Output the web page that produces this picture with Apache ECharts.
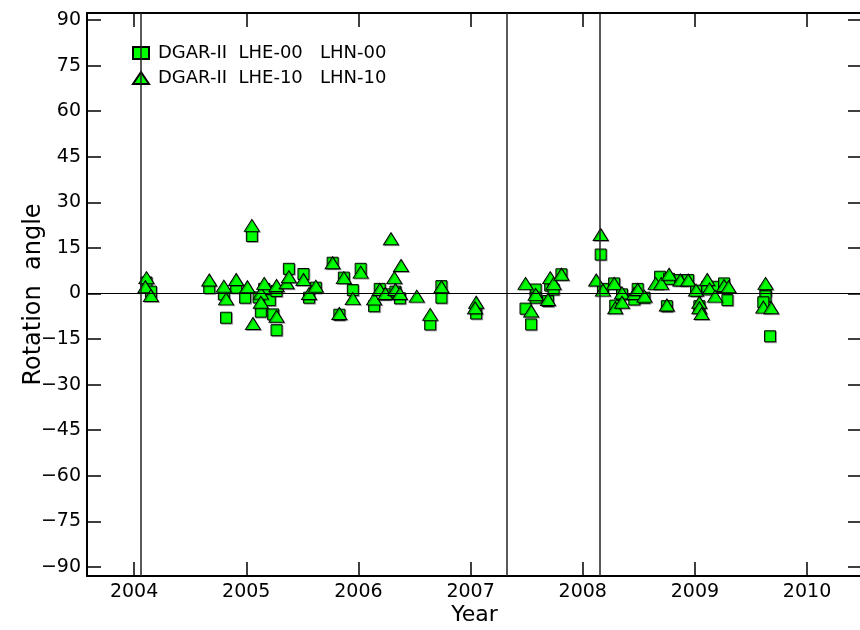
<!DOCTYPE html>
<html>
<head>
<meta charset="utf-8">
<script src="https://cdn.jsdelivr.net/npm/echarts@6/dist/echarts.min.js"></script>
<style>
html,body{margin:0;padding:0;background:#fff;}
#main{width:860px;height:630px;}
</style>
</head>
<body>
<div id="main"></div>
<script>
// 数据：年份 / 旋转角
var yearTicks = [2004, 2005, 2006, 2007, 2008, 2009, 2010];
var angleTicks = [-90, -75, -60, -45, -30, -15, 0, 15, 30, 45, 60, 75, 90];
var seriesNames = ['DGAR-II  LHE-00   LHN-00', 'DGAR-II  LHE-10   LHN-10'];
var eventYears = [2004.06, 2007.32, 2008.15];

// 方块 (00)
var squareData = [
    [2004.11, 3.6], [2004.15, 0.6], [2004.67, 1.8], [2004.80, -0.3], [2004.82, -8.0],
    [2004.91, 1.9], [2004.99, -1.4], [2005.05, 18.9], [2005.11, -1.3], [2005.13, -6.0],
    [2005.16, 1.5], [2005.21, -2.2], [2005.24, -6.9], [2005.27, -12.1], [2005.27, 0.8],
    [2005.38, 8.1], [2005.51, 6.4], [2005.56, -1.4], [2005.62, 1.9], [2005.77, 10.1],
    [2005.83, -7.0], [2005.87, 5.2], [2005.95, 1.1], [2006.02, 8.1], [2006.14, -4.2],
    [2006.19, 1.5], [2006.24, -0.3], [2006.33, 0.6], [2006.37, -1.6], [2006.64, -10.2],
    [2006.74, 2.4], [2006.74, -1.4], [2007.05, -6.6], [2007.49, -5.0], [2007.54, -10.2],
    [2007.58, 1.3], [2007.58, -1.4], [2007.69, -2.5], [2007.71, 2.6], [2007.74, 1.3],
    [2007.81, 6.3], [2008.16, 12.8], [2008.18, 1.5], [2008.28, 3.3], [2008.29, -4.0],
    [2008.35, -0.3], [2008.46, -2.0], [2008.49, 1.5], [2008.55, -1.4], [2008.69, 5.5],
    [2008.77, 4.8], [2008.75, -4.2], [2008.87, 4.4], [2008.94, 4.4], [2009.01, 0.9],
    [2009.04, -4.2], [2009.11, 2.2], [2009.20, 2.2], [2009.26, 3.3], [2009.29, -2.2],
    [2009.63, 0.8], [2009.63, -0.9], [2009.61, -2.9], [2009.67, -14.1]
];

// 三角 (10)
var triangleData = [
    [2004.11, 5.2], [2004.10, 2.2], [2004.15, -0.7], [2004.67, 4.4], [2004.80, 2.4],
    [2004.82, -1.8], [2004.91, 4.6], [2005.01, 2.2], [2005.05, 22.4], [2005.06, -9.9],
    [2005.13, 0.1], [2005.13, -2.9], [2005.16, 3.3], [2005.27, -7.5], [2005.27, 2.6],
    [2005.36, 3.5], [2005.38, 5.5], [2005.51, 4.6], [2005.56, 0.0], [2005.62, 2.4],
    [2005.77, 10.1], [2005.83, -6.6], [2005.87, 5.2], [2005.95, -1.7], [2006.02, 7.0],
    [2006.14, -1.8], [2006.19, 1.3], [2006.24, 0.0], [2006.29, 18.0], [2006.32, 5.2],
    [2006.33, 1.3], [2006.37, 0.0], [2006.38, 9.2], [2006.52, -0.9], [2006.64, -6.9],
    [2006.74, 2.2], [2007.05, -2.9], [2007.04, -4.7], [2007.49, 3.3], [2007.54, -5.8],
    [2007.58, -0.3], [2007.69, -2.0], [2007.71, 5.2], [2007.74, 3.3], [2007.81, 6.3],
    [2008.12, 4.4], [2008.16, 19.4], [2008.18, 1.1], [2008.28, 3.3], [2008.29, -4.7],
    [2008.35, 0.2], [2008.35, -2.9], [2008.46, 0.0], [2008.49, 1.3], [2008.55, -0.9],
    [2008.65, 3.3], [2008.70, 3.3], [2008.77, 6.3], [2008.75, -3.8], [2008.87, 4.4],
    [2008.94, 4.4], [2009.01, 1.1], [2009.04, -2.9], [2009.04, -4.7], [2009.06, -6.6],
    [2009.11, 4.6], [2009.13, 1.5], [2009.18, -0.9], [2009.26, 2.6], [2009.30, 2.2],
    [2009.63, 3.3], [2009.61, -4.5], [2009.68, -4.7]
];

var FONT = 'DejaVu Sans';
var green = '#00ff00';

function minus(v){
    return String(v).replace('-', '\u2212');
}

// 坐标轴公共设置
function xAxisOf(pos, showLabel){
    return {
        type: 'value',
        position: pos,
        min: 2003.58,
        max: 2010.49,
        splitLine: {show: false},
        axisLine: {show: true, onZero: false, lineStyle: {color: '#000', width: 2}},
        axisTick: {show: true, inside: true, length: 14, customValues: yearTicks, lineStyle: {color: '#000', width: 1.5}},
        axisLabel: {show: showLabel, customValues: yearTicks, color: '#000', fontFamily: FONT, fontSize: 19, margin: 7,
            formatter: function(v){ return String(v); }}
    };
}
function yAxisOf(pos, showLabel){
    return {
        type: 'value',
        position: pos,
        min: -93,
        max: 92.3,
        splitLine: {show: false},
        axisLine: {show: true, onZero: false, lineStyle: {color: '#000', width: 2}},
        axisTick: {show: true, inside: true, length: 14, customValues: angleTicks, lineStyle: {color: '#000', width: 1.5}},
        axisLabel: {show: showLabel, customValues: angleTicks, color: '#000', fontFamily: FONT, fontSize: 19, margin: 6,
            formatter: function(v){ return minus(v); }}
    };
}

var xBottom = xAxisOf('bottom', true);
xBottom.name = 'Year';
xBottom.nameLocation = 'middle';
xBottom.nameGap = 28;
xBottom.nameMoveOverlap = false;
xBottom.nameTextStyle = {color: '#000', fontFamily: FONT, fontSize: 22};
var xTop = xAxisOf('top', false);

var yLeft = yAxisOf('left', true);
yLeft.name = 'Rotation  angle';
yLeft.nameLocation = 'middle';
yLeft.nameGap = 41;
yLeft.nameMoveOverlap = false;
yLeft.nameTextStyle = {color: '#000', fontFamily: FONT, fontSize: 24};
var yRight = yAxisOf('right', false);

var markVertical = [];
for (var i = 0; i < eventYears.length; i++) {
    markVertical.push({xAxis: eventYears[i]});
}
markVertical.push({yAxis: 0, lineStyle: {color: '#000', width: 1.2}});

var myChart = echarts.init(document.getElementById('main'));
var option = {
    backgroundColor: '#fff',
    animation: false,
    grid: {left: 87, right: -2, top: 13, bottom: 54, containLabel: false, outerBoundsMode: 'none'},
    legend: {
        left: 127,
        top: 39,
        orient: 'vertical',
        itemGap: 7,
        itemWidth: 16,
        itemHeight: 12,
        textStyle: {color: '#000', fontFamily: FONT, fontSize: 18, padding: [0, 0, 0, 4]},
        data: seriesNames
    },
    xAxis: [xBottom, xTop],
    yAxis: [yLeft, yRight],
    series: [
        {
            // 参考线
            type: 'scatter',
            data: [],
            z: 1,
            silent: true,
            markLine: {
                silent: true,
                symbol: 'none',
                animation: false,
                label: {show: false},
                lineStyle: {color: '#222', width: 1.5, type: 'solid'},
                data: markVertical
            }
        },
        {
            name: seriesNames[0],
            type: 'scatter',
            symbol: 'rect',
            symbolSize: 11,
            z: 3,
            itemStyle: {color: green, opacity: 1, borderColor: '#000', borderWidth: 1,
                shadowColor: 'rgba(0,0,0,0.3)', shadowOffsetX: 1, shadowOffsetY: 1},
            data: squareData
        },
        {
            name: seriesNames[1],
            type: 'scatter',
            symbol: 'triangle',
            symbolSize: [15, 12],
            z: 4,
            itemStyle: {color: green, opacity: 1, borderColor: '#000', borderWidth: 1,
                shadowColor: 'rgba(0,0,0,0.3)', shadowOffsetX: 1, shadowOffsetY: 1},
            data: triangleData
        }
    ]
};
myChart.setOption(option);
</script>
</body>
</html>
